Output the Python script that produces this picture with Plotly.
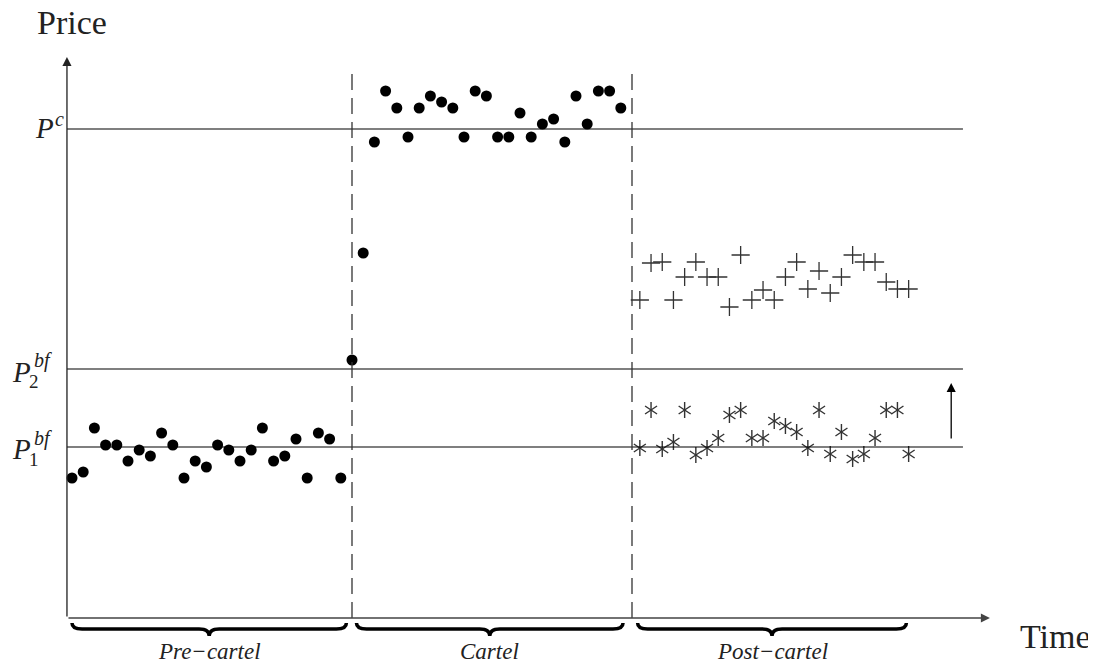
import plotly.graph_objects as go

# ---------------- data (time index, price level) ----------------
pre_t = list(range(0, 25))
pre_p = [14.0, 14.6, 19.0, 17.3, 17.3, 15.7, 16.8, 16.2, 18.5, 17.3, 14.0, 15.7, 15.1,
         17.3, 16.8, 15.7, 16.8, 19.0, 15.7, 16.2, 17.9, 14.0, 18.5, 17.9, 14.0]

trans_t = [25, 26]
trans_p = [25.8, 36.5]

cartel_t = list(range(27, 50))
cartel_p = [47.6, 52.7, 51.0, 48.1, 51.0, 52.2, 51.6, 51.0, 48.1, 52.7, 52.2, 48.1,
            48.1, 50.5, 48.1, 49.4, 49.9, 47.6, 52.2, 49.4, 52.7, 52.7, 51.0]

post_t = [50.7 + i for i in range(25)]
post_plus_p = [31.8, 35.5, 35.6, 31.8, 34.1, 35.6, 34.1, 34.1, 31.1, 36.3, 31.8, 32.8, 31.8,
               34.1, 35.6, 32.9, 34.7, 32.5, 34.1, 36.3, 35.6, 35.6, 33.6, 32.9, 32.9]
post_star_p = [17.0, 20.8, 16.9, 17.6, 20.8, 16.3, 17.0, 18.0, 20.3, 20.8, 18.0, 18.0, 19.7,
               19.2, 18.6, 17.0, 20.8, 16.4, 18.6, 15.9, 16.4, 18.0, 20.8, 20.8, 16.4]

level_names = ["Pc", "P2bf", "P1bf"]
level_values = [48.9, 24.9, 17.1]

period_breaks = [25, 50]
period_labels = ["Pre\u2212cartel", "Cartel", "Post\u2212cartel"]
brace_spans = [(0.0, 24.5), (25.4, 49.2), (50.5, 74.5)]

# ---------------- layout helpers ----------------
# (page body has an 8px margin, ranges compensate so marks land where they should)
T_MIN, T_MAX = -5.714, 92.143
P_MIN, P_MAX = -5.7, 61.0
AX_T = -0.45          # y-axis position
AX_TOP = 56.1
XAX_END = 81.96
LINE_END = 79.55
DASH_TOP = 55.1

SERIF = "Liberation Serif, DejaVu Serif, serif"
INK = "#222"

fig = go.Figure()

fig.add_trace(go.Scatter(x=pre_t + trans_t + cartel_t, y=pre_p + trans_p + cartel_p,
                         mode="markers", marker=dict(color="black", size=11),
                         hoverinfo="skip", showlegend=False))
fig.add_trace(go.Scatter(x=post_t, y=post_plus_p, mode="markers",
                         marker=dict(symbol="cross-thin-open", size=13, color="#333",
                                     line=dict(color="#333", width=1.3)),
                         showlegend=False))
for sym in ["y-up-open", "y-down-open"]:
    fig.add_trace(go.Scatter(x=post_t, y=post_star_p, mode="markers",
                             marker=dict(symbol=sym, size=10, color="#333",
                                         line=dict(color="#333", width=1.4)),
                             showlegend=False))

shapes = []
for v in level_values:
    shapes.append(dict(type="line", x0=AX_T, x1=LINE_END, y0=v, y1=v,
                       line=dict(color="black", width=1.1)))
for b in period_breaks:
    shapes.append(dict(type="line", x0=b, x1=b, y0=0, y1=DASH_TOP,
                       line=dict(color="#333", width=1.3, dash="16px,8px")))

# curly braces under the time axis
y_top, y_body, y_tip = -0.5, -1.1, -1.8
c = 0.9
for (a, b) in brace_spans:
    m = (a + b) / 2
    path = (f"M {a},{y_top} Q {a},{y_body} {a + c},{y_body} L {m - c},{y_body} "
            f"Q {m},{y_body} {m},{y_tip} Q {m},{y_body} {m + c},{y_body} "
            f"L {b - c},{y_body} Q {b},{y_body} {b},{y_top}")
    shapes.append(dict(type="path", path=path, line=dict(color="black", width=3.5)))
fig.update_layout(shapes=shapes)

ann = []
# axes with arrows
ann.append(dict(x=AX_T, y=AX_TOP, ax=AX_T, ay=0, xref="x", yref="y", axref="x", ayref="y",
                showarrow=True, arrowhead=2, arrowsize=1.4, arrowwidth=1.3, arrowcolor="#222", text=""))
ann.append(dict(x=XAX_END, y=0, ax=AX_T, ay=0, xref="x", yref="y", axref="x", ayref="y",
                showarrow=True, arrowhead=2, arrowsize=1.4, arrowwidth=1.3, arrowcolor="#444", text=""))
# upward shift arrow
ann.append(dict(x=78.5, y=23.5, ax=78.5, ay=17.8, xref="x", yref="y", axref="x", ayref="y",
                showarrow=True, arrowhead=2, arrowsize=1.4, arrowwidth=1.3, arrowcolor="black", text=""))

ann.append(dict(x=0, y=59.6, text="Price", showarrow=False, font=dict(family=SERIF, size=34, color=INK)))
ann.append(dict(x=87.8, y=-1.8, text="Time", showarrow=False, font=dict(family=SERIF, size=34, color=INK)))

# level labels
ann.append(dict(x=-2.5, y=49.0, text="<i>P</i>", showarrow=False, font=dict(family=SERIF, size=29, color=INK)))
ann.append(dict(x=-1.15, y=49.9, text="<i>c</i>", showarrow=False, font=dict(family=SERIF, size=20, color=INK)))
for P_y, bf_y, sub_y, sub in [(24.6, 25.8, 23.7, "2"), (16.9, 18.0, 15.9, "1")]:
    ann.append(dict(x=-4.55, y=P_y, text="<i>P</i>", showarrow=False, font=dict(family=SERIF, size=29, color=INK)))
    ann.append(dict(x=-2.55, y=bf_y, text="<i>bf</i>", showarrow=False, font=dict(family=SERIF, size=20, color=INK)))
    ann.append(dict(x=-3.4, y=sub_y, text=sub, showarrow=False, font=dict(family=SERIF, size=19, color=INK)))

for (a, b), lab in zip(brace_spans, period_labels):
    ann.append(dict(x=(a + b) / 2, y=-3.3, text=f"<i>{lab}</i>", showarrow=False,
                    font=dict(family=SERIF, size=23, color=INK)))

fig.update_layout(annotations=ann)

fig.update_layout(
    width=1096, height=667,
    margin=dict(l=0, r=0, t=0, b=0),
    paper_bgcolor="white", plot_bgcolor="white",
    xaxis=dict(range=[T_MIN, T_MAX], visible=False, fixedrange=True),
    yaxis=dict(range=[P_MIN, P_MAX], visible=False, fixedrange=True),
    showlegend=False,
)

fig.write_html("out.html")
